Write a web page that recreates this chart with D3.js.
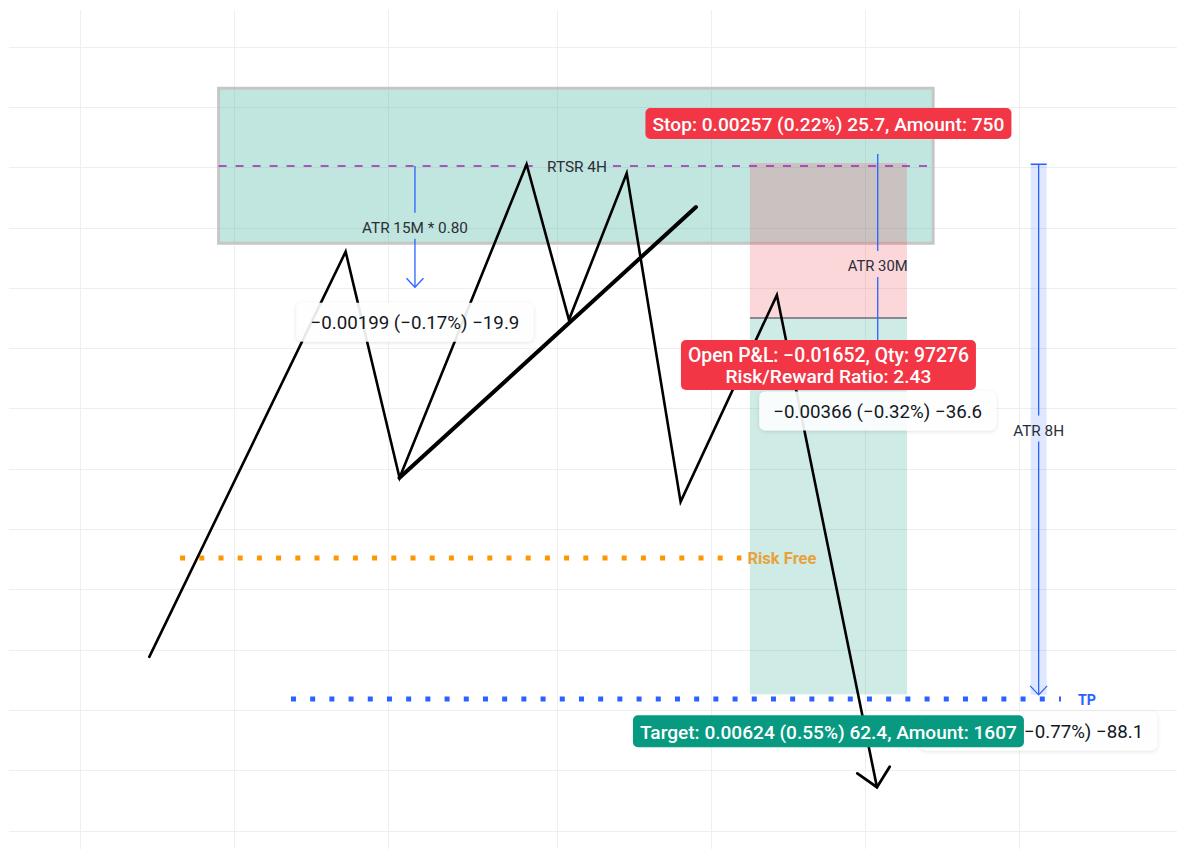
<!DOCTYPE html>
<html>
<head>
<meta charset="utf-8">
<script src="https://cdn.jsdelivr.net/npm/d3@7/dist/d3.min.js"></script>
<style>
  body { margin: 0; background: #fff; }
  svg { display: block; font-family: Roboto, "Noto Sans", sans-serif; }
</style>
</head>
<body>
<svg id="chart" width="1177" height="849"></svg>
<script>
// time axis is in bar index, price axis in quote price
const xGridBars = [0, 20, 40, 62, 82, 102, 122];
const priceGrid = [1.135, 1.136, 1.137, 1.138, 1.139, 1.140, 1.141, 1.142, 1.143, 1.144, 1.145, 1.146, 1.147, 1.148];

const zigzagBars = [9, 34.5, 41.5, 58, 63.5, 71, 78, 90.5, 103.5];
const zigzagPrices = [1.13788, 1.14460, 1.14085, 1.14605, 1.14347, 1.14590, 1.14045, 1.14388, 1.13572];
const trendBars = [41.5, 80];
const trendPrices = [1.14085, 1.14534];

const zoneBars = [18, 110.8];
const zonePrices = [1.14474, 1.14731];
const rtsrPrice = 1.14602;

const positionBars = [87, 107.4];
const entryPrice = 1.1435;
const stopPrice = 1.14607;
const targetPrice = 1.13726;

const riskFreeBars = [13, 85.9];
const riskFreePrice = 1.13952;
const tpBars = [27.4, 127.4];
const tpPrice = 1.13718;

const atrNames = ['ATR 15M * 0.80', 'ATR 30M', 'ATR 8H'];
const atrBars = [43.5, 103.6, 124.5];
const atrFrom = [1.14602, 1.14622, 1.14605];
const atrTo = [1.14401, 1.14254, 1.13725];
const rangeTexts = ['\u22120.00199 (\u22120.17%) \u221219.9', '\u22120.00366 (\u22120.32%) \u221236.6', '\u22120.00881 (\u22120.77%) \u221288.1'];

const stopText = 'Stop: 0.00257 (0.22%) 25.7, Amount: 750';
const pnlText = ['Open P&L: \u22120.01652, Qty: 97276', 'Risk/Reward Ratio: 2.43'];
const targetText = 'Target: 0.00624 (0.55%) 62.4, Amount: 1607';

const svg = d3.select('#chart');
const width = +svg.attr('width');
const height = +svg.attr('height');

const x = d3.scaleLinear().domain([0, 122]).range([80, 80 + 122 * 7.7]);
const y = d3.scaleLinear().domain([1.1435, 1.1535]).range([318, 318 - 603]);

const defs = svg.append('defs');
const shadow = defs.append('filter').attr('id', 'shadow')
  .attr('x', '-10%').attr('y', '-30%').attr('width', '120%').attr('height', '160%');
shadow.append('feDropShadow').attr('dx', 0).attr('dy', 1).attr('stdDeviation', 2)
  .attr('flood-color', '#000').attr('flood-opacity', 0.13);

// grid
const grid = svg.append('g');
grid.selectAll('.hgrid').data(priceGrid).enter().append('line')
  .attr('x1', 9).attr('x2', width)
  .attr('y1', d => Math.round(y(d)) + 0.5).attr('y2', d => Math.round(y(d)) + 0.5)
  .attr('stroke', '#efefef');
grid.selectAll('.vgrid').data(xGridBars).enter().append('line')
  .attr('y1', 10).attr('y2', height)
  .attr('x1', d => Math.round(x(d)) + 0.5).attr('x2', d => Math.round(x(d)) + 0.5)
  .attr('stroke', '#efefef');

// fit a text element to the width it has in the picture
function fit(sel, target, base) {
  sel.style('font-size', base + 'px');
  const w = sel.node().getComputedTextLength();
  sel.style('font-size', (base * target / w).toFixed(2) + 'px');
  return sel;
}

// line broken behind its label
function brokenLine(g, x1, y1, x2, y2, gapFrom, gapTo, attrs, vertical) {
  const segs = vertical
    ? [[x1, y1, x2, gapFrom], [x1, gapTo, x2, y2]]
    : [[x1, y1, gapFrom, y2], [gapTo, y1, x2, y2]];
  segs.forEach(s => {
    const l = g.append('line').attr('x1', s[0]).attr('y1', s[1]).attr('x2', s[2]).attr('y2', s[3]);
    Object.keys(attrs).forEach(k => l.attr(k, attrs[k]));
  });
}

const draw = svg.append('g');

// supply zone
draw.append('rect')
  .attr('x', x(zoneBars[0])).attr('y', y(zonePrices[1]))
  .attr('width', x(zoneBars[1]) - x(zoneBars[0]))
  .attr('height', y(zonePrices[0]) - y(zonePrices[1]))
  .attr('fill', 'rgba(8,153,129,0.25)')
  .attr('stroke', '#c6c6c6').attr('stroke-width', 3);

// short position boxes
const px0 = x(positionBars[0]);
const px1 = x(positionBars[1]);
draw.append('rect').attr('x', px0).attr('y', y(stopPrice))
  .attr('width', px1 - px0).attr('height', y(entryPrice) - y(stopPrice))
  .attr('fill', 'rgba(242,54,69,0.2)');
draw.append('rect').attr('x', px0).attr('y', y(entryPrice))
  .attr('width', px1 - px0).attr('height', y(targetPrice) - y(entryPrice))
  .attr('fill', 'rgba(8,153,129,0.2)');
draw.append('line').attr('x1', px0).attr('x2', px1)
  .attr('y1', y(entryPrice)).attr('y2', y(entryPrice))
  .attr('stroke', '#6a6d78').attr('stroke-width', 1.5);

// RTSR 4H dashed level
const rtsrLabel = draw.append('text')
  .attr('x', 577).attr('y', y(rtsrPrice) + 1)
  .attr('text-anchor', 'middle').attr('dominant-baseline', 'central')
  .attr('fill', '#2a2e39').text('RTSR 4H');
fit(rtsrLabel, 60, 13);
const rb = rtsrLabel.node().getBBox();
brokenLine(draw, x(zoneBars[0]), y(rtsrPrice), x(zoneBars[1]) - 3, y(rtsrPrice),
  rb.x - 8, rb.x + rb.width + 6,
  { stroke: 'rgba(156,39,176,0.75)', 'stroke-width': 2, 'stroke-dasharray': '8 9' }, false);

// risk free and take profit dotted levels
draw.append('line')
  .attr('x1', x(riskFreeBars[0])).attr('x2', x(riskFreeBars[1]))
  .attr('y1', y(riskFreePrice)).attr('y2', y(riskFreePrice))
  .attr('stroke', '#ff9800').attr('stroke-width', 5).attr('stroke-dasharray', '5 14.2');
fit(draw.append('text')
  .attr('x', x(riskFreeBars[1]) + 6).attr('y', y(riskFreePrice) + 1)
  .attr('dominant-baseline', 'central').attr('font-weight', 'bold')
  .attr('fill', '#e8a23a').text('Risk Free'), 69, 14);

draw.append('line')
  .attr('x1', x(tpBars[0])).attr('x2', x(tpBars[1]))
  .attr('y1', y(tpPrice)).attr('y2', y(tpPrice))
  .attr('stroke', '#2962ff').attr('stroke-width', 5).attr('stroke-dasharray', '5 14.2');
fit(draw.append('text')
  .attr('x', x(tpBars[1]) + 17).attr('y', y(tpPrice) + 1)
  .attr('dominant-baseline', 'central').attr('font-weight', 'bold')
  .attr('fill', '#2962ff').text('TP'), 18, 13);

// ATR measures
const atrWidths = [106, 60, 51];
atrNames.forEach((name, i) => {
  const ax = x(atrBars[i]);
  const ya = y(atrFrom[i]);
  const yb = y(atrTo[i]);
  if (i === 2) {
    draw.append('rect').attr('x', ax - 8).attr('y', ya)
      .attr('width', 16).attr('height', yb - ya)
      .attr('fill', 'rgba(41,98,255,0.15)');
    draw.append('line').attr('x1', ax - 8).attr('x2', ax + 8)
      .attr('y1', ya).attr('y2', ya).attr('stroke', '#2962ff').attr('stroke-width', 1.5);
  }
  const t = draw.append('text')
    .attr('x', ax).attr('y', (ya + yb) / 2 + 1)
    .attr('text-anchor', 'middle').attr('dominant-baseline', 'central')
    .attr('fill', '#2a2e39').text(name);
  fit(t, atrWidths[i], 13);
  const mid = (ya + yb) / 2;
  brokenLine(draw, ax, ya, ax, yb, mid - 14, mid + 12,
    { stroke: '#2962ff', 'stroke-width': 1.3 }, true);
  draw.append('path')
    .attr('d', d3.line()([[ax - 8.5, yb - 9], [ax, yb], [ax + 8.5, yb - 9]]))
    .attr('fill', 'none').attr('stroke', '#2962ff').attr('stroke-width', 1.3);
});

// price path
const pathPts = zigzagBars.map((b, i) => [x(b), y(zigzagPrices[i])]);
draw.append('path')
  .attr('d', d3.line()(pathPts))
  .attr('fill', 'none').attr('stroke', '#000').attr('stroke-width', 2.6)
  .attr('stroke-linejoin', 'miter').attr('stroke-linecap', 'round');
draw.append('path')
  .attr('d', d3.line()(trendBars.map((b, i) => [x(b), y(trendPrices[i])])))
  .attr('fill', 'none').attr('stroke', '#000').attr('stroke-width', 4)
  .attr('stroke-linecap', 'round');
// arrow head at the end of the path
const tip = pathPts[pathPts.length - 1];
const prev = pathPts[pathPts.length - 2];
const ang = Math.atan2(prev[1] - tip[1], prev[0] - tip[0]);
const wing = a => [tip[0] + 24 * Math.cos(ang + a), tip[1] + 24 * Math.sin(ang + a)];
draw.append('path')
  .attr('d', d3.line()([wing(0.76), tip, wing(-0.76)]))
  .attr('fill', 'none').attr('stroke', '#000').attr('stroke-width', 2.8)
  .attr('stroke-linejoin', 'miter').attr('stroke-linecap', 'round');

// range labels under the ATR arrows
const rangeOffsets = [35, 35, 36];
const labels = svg.append('g');
rangeTexts.forEach((txt, i) => {
  const cx = x(atrBars[i]);
  const cy = y(atrTo[i]) + rangeOffsets[i];
  const w = 209 + 28;
  const g = labels.append('g');
  g.append('rect').attr('rx', 6)
    .attr('fill', 'rgba(255,255,255,0.9)').attr('filter', 'url(#shadow)')
    .attr('x', cx - w / 2).attr('y', cy - 19.5).attr('width', w).attr('height', 39);
  // full-size text, used to size the font
  const t = g.append('text').attr('x', cx).attr('y', cy + 1)
    .attr('text-anchor', 'middle').attr('dominant-baseline', 'central')
    .attr('fill', '#131722').text(txt);
  fit(t, 209, 16);
  if (i === 2) {
    // the target label covers the start of this one: keep only the visible part
    t.attr('text-anchor', 'end').attr('x', cx + 209 / 2)
      .text(txt.slice(txt.indexOf('(') + 1));
  }
});

// position labels
function pill(cx, cy, h, fill, lines, widths) {
  const g = labels.append('g');
  const rect = g.append('rect').attr('rx', 5).attr('fill', fill);
  const lh = 21;
  lines.forEach((ln, i) => {
    const t = g.append('text').attr('x', cx)
      .attr('y', cy + (i - (lines.length - 1) / 2) * lh + 1)
      .attr('text-anchor', 'middle').attr('dominant-baseline', 'central')
      .attr('fill', '#fff').attr('font-weight', 500).text(ln);
    fit(t, widths[i], 15);
  });
  const w = d3.max(widths) + 14;
  rect.attr('x', cx - w / 2).attr('y', cy - h / 2).attr('width', w).attr('height', h);
}
const pcx = (px0 + px1) / 2;
pill(pcx, y(stopPrice) - 39.5, 31, '#f23645', [stopText], [352]);
pill(pcx, y(entryPrice) + 47, 50, '#f23645', pnlText, [281, 206]);
pill(pcx, y(targetPrice) + 37, 32, '#089981', [targetText], [377]);
</script>
</body>
</html>
